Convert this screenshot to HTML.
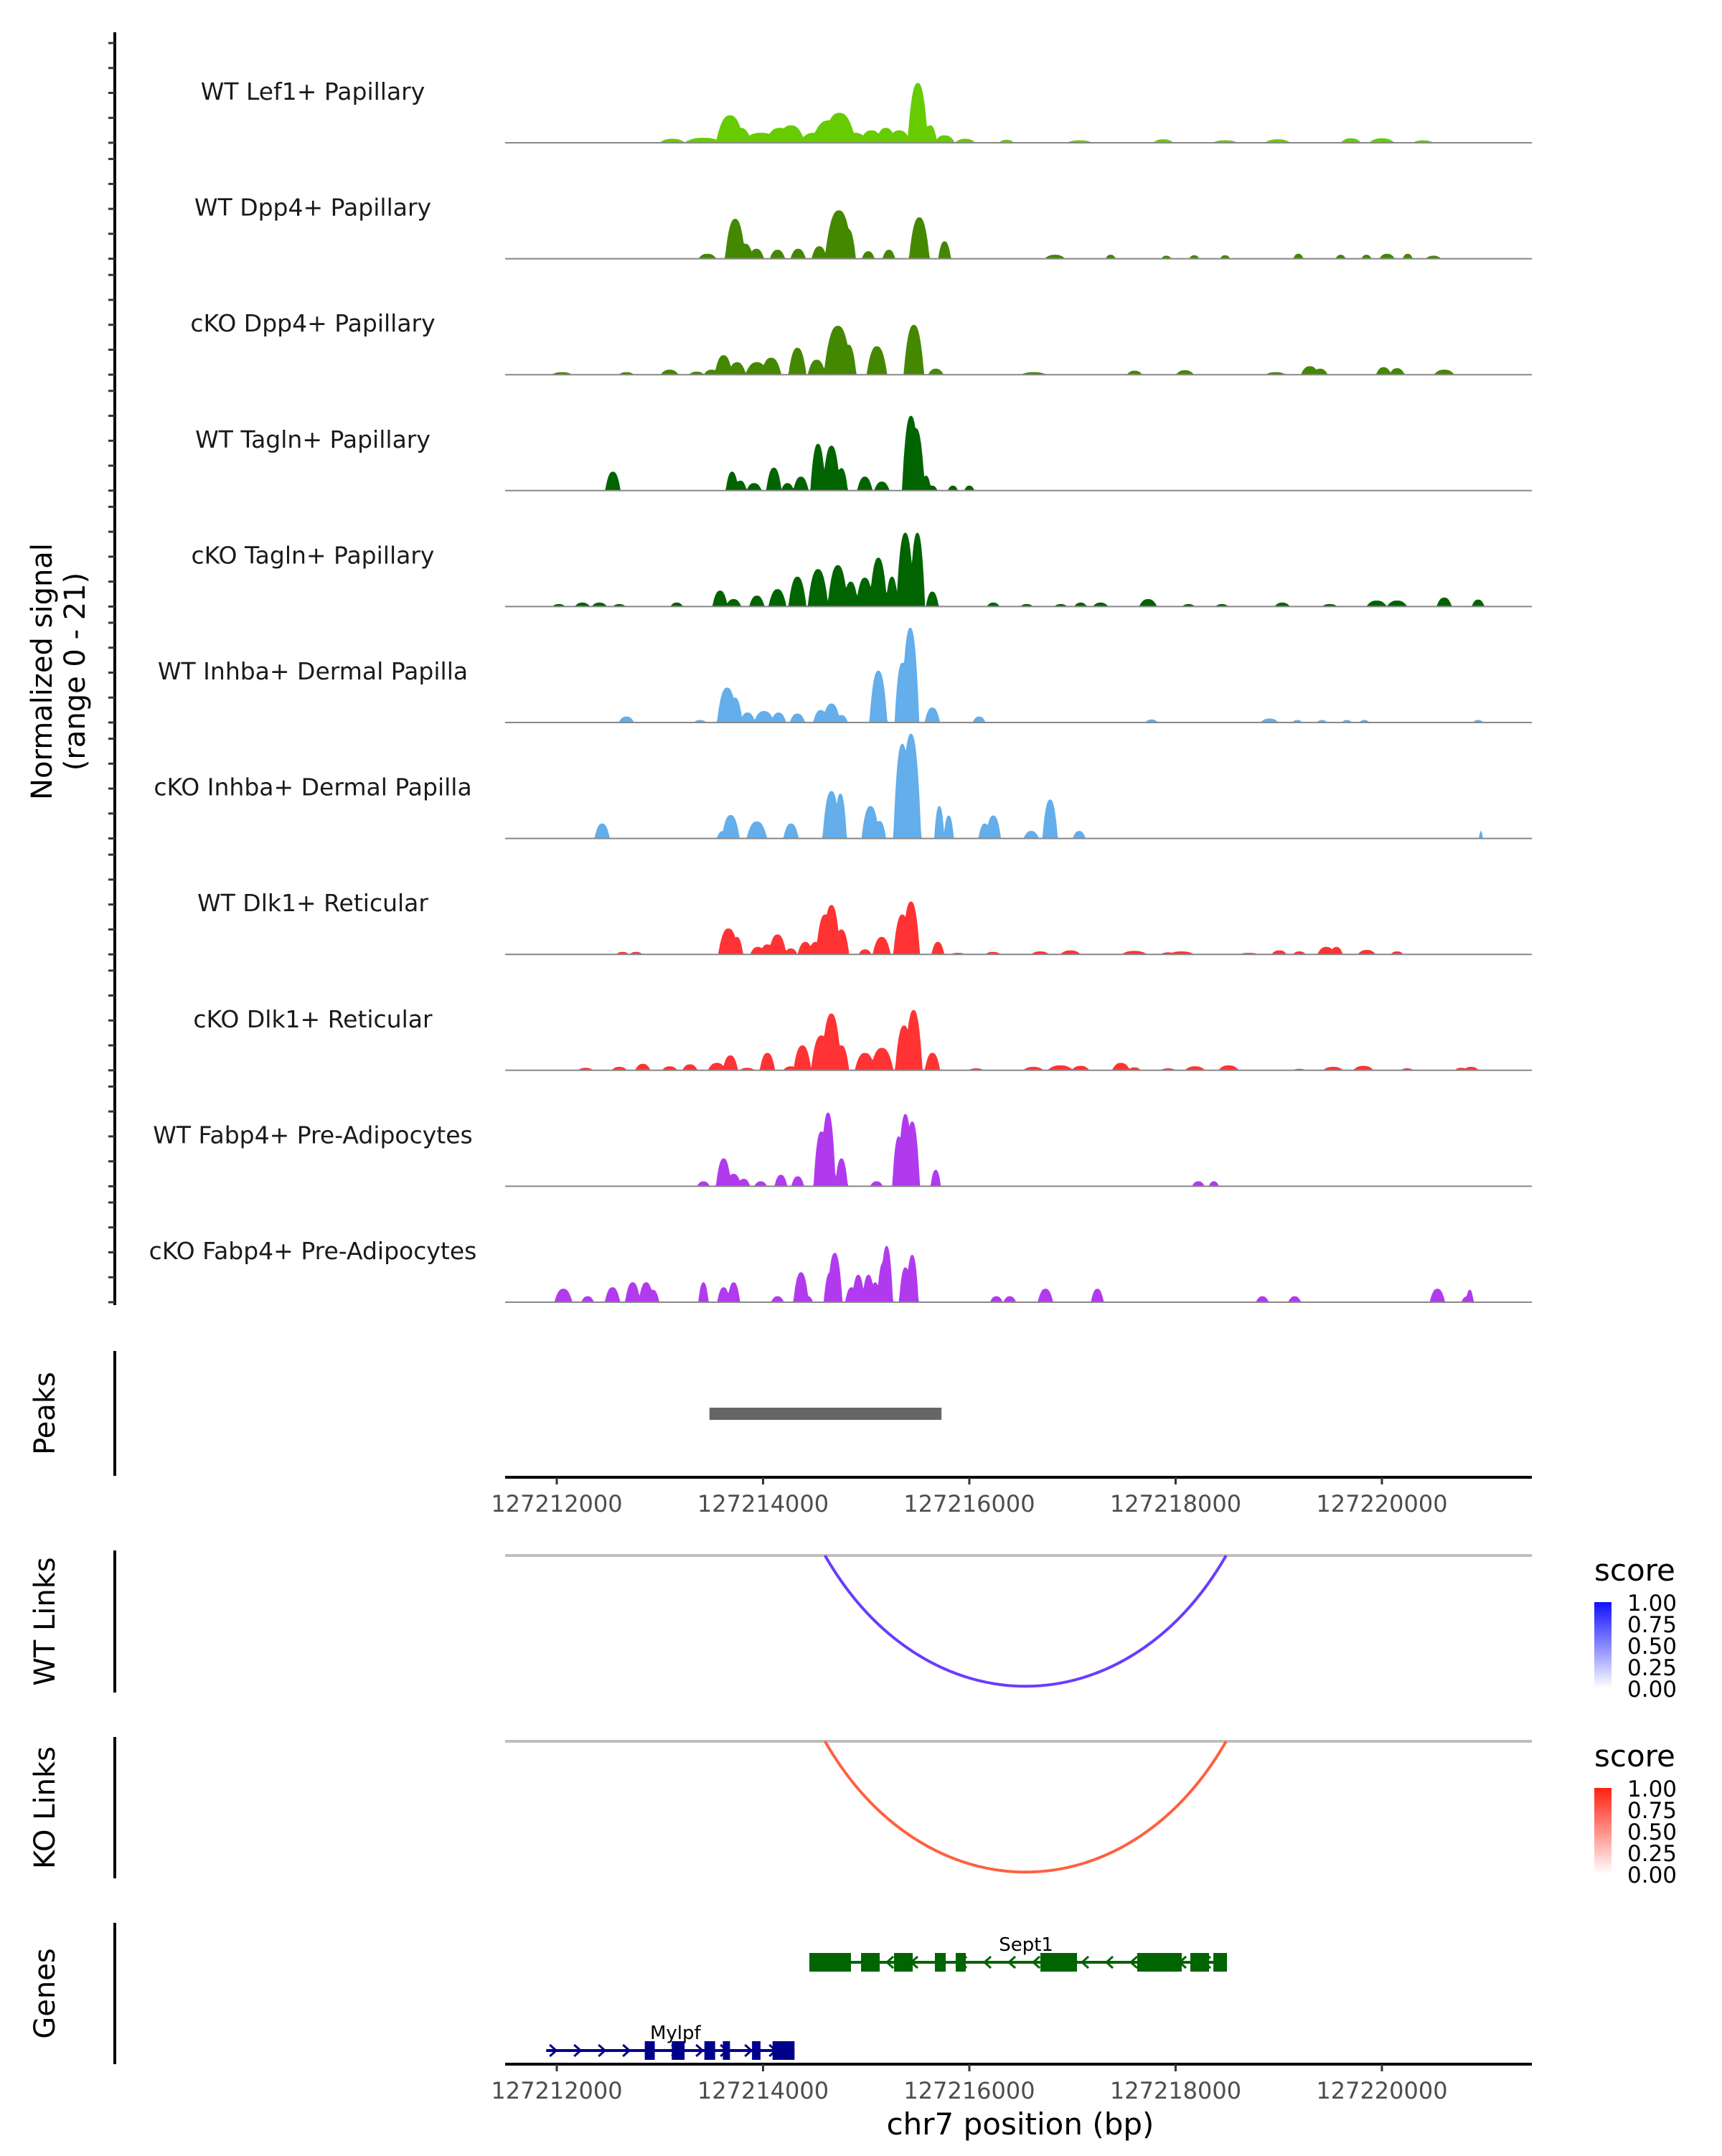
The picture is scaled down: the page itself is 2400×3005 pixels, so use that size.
<!DOCTYPE html>
<html><head><meta charset="utf-8"><style>
html,body{margin:0;padding:0;background:#fff;}
svg text{font-family:"DejaVu Sans","Liberation Sans",sans-serif;}
</style></head><body>
<svg id="chart" width="2400" height="3000" viewBox="0 0 2400 3000" xmlns="http://www.w3.org/2000/svg">
<g id="tracks"></g>
<g id="rest"></g>
</svg>
<script>
// ---- data ----
const regionStart = 127211499, regionEnd = 127221454;
const xTicks = [127212000,127214000,127216000,127218000,127220000];
const trackNames = ["WT Lef1+ Papillary","WT Dpp4+ Papillary","cKO Dpp4+ Papillary","WT Tagln+ Papillary","cKO Tagln+ Papillary","WT Inhba+ Dermal Papilla","cKO Inhba+ Dermal Papilla","WT Dlk1+ Reticular","cKO Dlk1+ Reticular","WT Fabp4+ Pre-Adipocytes","cKO Fabp4+ Pre-Adipocytes"];
const trackColors = ["#66cc00","#448800","#448800","#006400","#006400","#63aeeb","#63aeeb","#ff3333","#ff3333","#b23aee","#b23aee"];
// peaks: [offset bp from 127212000, height (0-21), half width bp]
const sigLef1 = [[1120,0.8,100],[1420,1,150],[1680,5.5,110],[1780,3,90],[1980,2,150],[2165,3,120],[2270,3.5,110],[2490,2,110],[2640,4.5,140],[2740,6,130],[2900,2,90],[3050,2.5,90],[3190,3,80],[3320,2.5,90],[3500,12,80],[3620,3.5,55],[3760,1.5,80],[3960,0.8,80],[4360,0.6,60],[5070,0.5,100],[5880,0.7,80],[6480,0.5,100],[6990,0.7,100],[7700,0.9,80],[8000,0.9,100],[8400,0.5,80]];
const sigDpp4WT = [[1460,1,70],[1730,8,80],[1830,3,60],[1935,2,60],[2140,1.8,60],[2340,2,60],[2545,2.5,60],[2735,9.7,110],[2825,6,60],[3020,1.5,50],[3220,1.8,50],[3515,8.3,80],[3760,3.5,50],[4830,0.8,80],[5370,0.8,40],[5910,0.6,40],[6180,0.7,40],[6480,0.7,40],[7190,1,40],[7600,0.8,40],[7850,0.8,40],[8050,1,60],[8250,1,40],[8500,0.6,60]];
const sigDpp4KO = [[50,0.5,80],[675,0.5,60],[1094,1,70],[1356,0.6,60],[1500,1,60],[1617,3.9,70],[1748,2.5,70],[1940,2.5,90],[2078,3.4,80],[2333,5.4,70],[2520,3,70],[2725,9.8,110],[2830,6,60],[3104,5.7,80],[3462,10,80],[3675,1.2,60],[4625,0.5,100],[5602,0.8,60],[6090,0.9,70],[6970,0.5,80],[7302,1.7,70],[7400,1.2,60],[8017,1.5,60],[8147,1.3,60],[8604,1,80]];
const sigTaglnWT = [[544,3.8,60],[1700,3.8,50],[1780,2,50],[1913,1.5,60],[2105,4.6,60],[2237,1.5,50],[2367,2.8,60],[2533,9.4,60],[2663,9,70],[2760,4.5,50],[2987,2.8,60],[3152,1.8,60],[3434,15,70],[3482,12.5,70],[3580,3,40],[3641,1,40],[3840,1,40],[4000,1,40]];
const sigTaglnKO = [[20,0.5,50],[248,0.8,60],[413,0.8,60],[606,0.5,50],[1163,0.8,50],[1583,3.2,60],[1714,1.5,60],[1940,2.2,60],[2140,3.5,70],[2333,6,70],[2533,7.5,80],[2725,8.3,80],[2850,5,60],[2987,5.8,70],[3118,9.8,70],[3250,6,50],[3379,14.8,70],[3496,14.8,60],[3641,3,50],[4232,0.8,50],[4556,0.5,50],[4886,0.5,50],[5079,0.8,50],[5272,0.8,60],[5733,1.5,70],[6125,0.5,50],[6448,0.5,50],[7034,0.8,60],[7494,0.5,60],[7949,1.2,80],[8147,1.2,80],[8604,1.8,60],[8933,1.4,50]];
const sigInhbaWT = [[675,1.2,60],[1390,0.5,50],[1652,7,80],[1727,5,60],[1850,2,60],[2010,2.3,80],[2150,2,60],[2333,1.8,60],[2560,2.5,60],[2663,3.8,70],[2760,1.5,50],[3118,10.4,70],[3350,12,60],[3427,19,70],[3641,3,60],[4095,1.2,50],[5767,0.6,50],[6910,0.8,70],[7180,0.5,40],[7420,0.5,40],[7660,0.5,40],[7830,0.5,40],[8933,0.5,40]];
const sigInhbaKO = [[440,3,60],[1613,1.5,50],[1686,4.7,70],[1940,3.4,80],[2271,3,60],[2663,9.5,70],[2750,9,50],[3042,6.5,70],[3130,3.5,50],[3350,19,70],[3434,21,80],[3709,6.5,40],[3800,4.6,40],[4150,3,50],[4232,4.6,60],[4600,1.5,60],[4783,7.8,60],[5065,1.5,50],[8960,1.5,15]];
const sigDlk1WT = [[638,0.5,50],[769,0.5,50],[1665,5.2,80],[1745,3.5,50],[1950,1.5,60],[2042,2,60],[2140,4,70],[2270,1.2,50],[2410,2.5,60],[2510,2.5,60],[2600,8,70],[2663,9.9,70],[2760,5,60],[2989,1,50],[3150,3.5,70],[3350,8,70],[3434,10.6,70],[3695,2.5,50],[3890,0.3,60],[4229,0.5,60],[4686,0.6,70],[4980,0.8,80],[5600,0.7,100],[5927,0.4,60],[6057,0.6,100],[6710,0.3,80],[7004,0.8,60],[7200,0.6,50],[7461,1.5,70],[7559,1.5,50],[7853,0.9,70],[8147,0.6,50]];
const sigDlk1KO = [[279,0.5,60],[606,0.7,60],[834,1.3,60],[1095,0.8,60],[1291,1.2,60],[1552,1.5,70],[1683,3,60],[1846,0.5,60],[2042,3.5,60],[2270,0.8,60],[2381,5,70],[2564,7,80],[2662,11.4,80],[2760,5,60],[2989,3.5,80],[3152,4.5,90],[3367,9,70],[3459,12.1,70],[3642,3.5,60],[4066,0.4,60],[4621,0.7,80],[4882,1,100],[5078,0.9,70],[5470,1.5,70],[5600,0.6,50],[5927,0.4,60],[6188,0.8,80],[6514,1,80],[7200,0.3,50],[7527,0.7,80],[7820,0.9,80],[8245,0.4,50],[8767,0.5,50],[8865,0.7,60]];
const sigFabp4WT = [[1422,1,50],[1618,5.6,60],[1715,2.5,60],[1813,1.5,50],[1977,1,50],[2173,2.3,50],[2336,2,50],[2564,11,60],[2630,14.8,60],[2760,5.6,50],[3100,1,50],[3315,10,50],[3380,14.5,60],[3446,13,60],[3674,3.3,40],[6220,1,50],[6371,1,40]];
const sigFabp4KO = [[64,2.7,70],[299,1.2,50],[540,3,60],[736,4,60],[867,4,60],[932,2.5,50],[1422,4,40],[1618,3,50],[1715,4,50],[2140,1.2,50],[2368,6,60],[2434,1.2,40],[2650,6,50],[2695,9.9,60],[2858,3,50],[2923,5.5,50],[3022,5.5,50],[3087,4,40],[3165,8,50],[3198,11.3,50],[3380,7,50],[3446,9.5,50],[4262,1.2,50],[4392,1.2,50],[4738,2.7,60],[5241,2.7,50],[6841,1.2,50],[7154,1.2,50],[8538,2.7,60],[8832,1.2,50],[8852,2.5,30]];
const signals = [sigLef1,sigDpp4WT,sigDpp4KO,sigTaglnWT,sigTaglnKO,sigInhbaWT,sigInhbaKO,sigDlk1WT,sigDlk1KO,sigFabp4WT,sigFabp4KO];
const peakRegion = [127213480,127215730];
const wtLink = [127214600,127218490];
const koLink = [127214600,127218490];
const sept1Exons = [[2449,2852],[2950,3131],[3270,3451],[3666,3771],[3868,3965],[4689,5044],[5628,6059],[6143,6324],[6366,6498]];
const sept1Span = [2449,6498];
const mylpfExons = [[853,950],[1115,1239],[1431,1535],[1610,1679],[1893,1975],[2092,2305]];
const mylpfSpan = [-103,2305];
const legendTicks = ["1.00","0.75","0.50","0.25","0.00"];
const yTicks = [0,5,10,15,20];

// ---- scales ----
const NS="http://www.w3.org/2000/svg";
const X0=704, X1=2135, BASE0=127212000;
const xs = bp => X0 + (bp-regionStart)/(regionEnd-regionStart)*(X1-X0);
const xo = off => xs(BASE0+off);
const trackBase = i => 199 + i*161.6;
const unitPx = 6.95;
function el(tag, attrs, parent){const e=document.createElementNS(NS,tag);for(const k in attrs)e.setAttribute(k,attrs[k]);parent.appendChild(e);return e;}
const G=document.getElementById('tracks'), R=document.getElementById('rest');

// left axis
let ax=el('line',{x1:160,y1:45,x2:160,y2:1819,stroke:'#000','stroke-width':4},G);


for(let i=0;i<11;i++){
  for(const t of yTicks){
    const y=trackBase(i)-t*unitPx;
    const tk=el('line',{x1:151,y1:y,x2:160,y2:y,stroke:'#333','stroke-width':3},G);
    
    
  }
}
let yl=el('text',{transform:'translate(78,936) rotate(-90)','text-anchor':'middle','font-size':40,fill:'#000'},G);


el('tspan',{x:0,dy:-6},yl).textContent='Normalized signal';
el('tspan',{x:0,dy:46},yl).textContent='(range 0 - 21)';

// tracks
const step=8;
for(let i=0;i<11;i++){
  const b=trackBase(i);
  const g=el('g',{},G);
  
  
  const lab=el('text',{x:436,y:b-60,'text-anchor':'middle','font-size':33,fill:'#1a1a1a'},g);
  
  
  lab.textContent=trackNames[i];
  let d='M'+X0+','+b;
  for(let off=regionStart-BASE0; off<=regionEnd-BASE0; off+=step){
    let v=0;
    for(const p of signals[i]){const w=p[2]*1.25;const dd=Math.abs(off-p[0]);if(dd<w){const h=p[1]*(1-Math.pow(dd/w,2.5));if(h>v)v=h;}}
    d+=' L'+xo(off).toFixed(1)+','+(b-Math.min(v,21)*unitPx).toFixed(1);
  }
  d+=' L'+X1+','+b+' Z';
  const a=el('path',{d:d,fill:trackColors[i]},g);
  
  
  const bl=el('line',{x1:X0,y1:b,x2:X1,y2:b,stroke:'#888','stroke-width':2},g);
  
  
}

// side axes & titles
function sideAxis(y1,y2,label,name){
  const l=el('line',{x1:160,y1:y1,x2:160,y2:y2,stroke:'#000','stroke-width':4},R);
  
  
  const t=el('text',{transform:'translate(76,'+((y1+y2)/2)+') rotate(-90)','text-anchor':'middle','font-size':40,fill:'#000'},R);
  
  
  t.textContent=label;
}
sideAxis(1883,2057,'Peaks','peaks');
sideAxis(2161,2359,'WT Links','wt-links');
sideAxis(2421,2618,'KO Links','ko-links');
sideAxis(2680,2877,'Genes','genes');

// peaks bar
let pb=el('rect',{x:xs(peakRegion[0]),y:1962,width:xs(peakRegion[1])-xs(peakRegion[0]),height:17,fill:'#666'},R);



// x axes
function xAxis(y,name){
  const l=el('line',{x1:704,y1:y,x2:2135,y2:y,stroke:'#000','stroke-width':4},R);
  
  
  for(const t of xTicks){
    const tk=el('line',{x1:xs(t),y1:y,x2:xs(t),y2:y+10,stroke:'#333','stroke-width':3},R);
    
    
    const tl=el('text',{x:xs(t),y:y+48,'text-anchor':'middle','font-size':32,fill:'#4d4d4d'},R);
    
    
    tl.textContent=t;
  }
}
xAxis(2059,'peaks-x-axis');
xAxis(2877,'genes-x-axis');
let xt=el('text',{x:1422,y:2975,'text-anchor':'middle','font-size':42,fill:'#000'},R);


xt.textContent='chr7 position (bp)';

// links
function links(y0,link,color,name,gradId,c1){
  const gl=el('line',{x1:X0,y1:y0,x2:X1,y2:y0,stroke:'#bebebe','stroke-width':4},R);
  
  
  const a=xs(link[0]), b=xs(link[1]);
  const p=el('path',{d:'M'+a+','+y0+' C'+(a+(b-a)*0.25)+','+(y0+243)+' '+(b-(b-a)*0.25)+','+(y0+243)+' '+b+','+y0,fill:'none',stroke:color,'stroke-width':4},R);
  
  
  const defs=el('defs',{},R);
  const lg=el('linearGradient',{id:gradId,x1:0,y1:0,x2:0,y2:1},defs);
  el('stop',{offset:'0',['stop-color']:c1},lg);
  el('stop',{offset:'1',['stop-color']:'#ffffff'},lg);
  const ly=y0+35;
  const st=el('text',{x:2222,y:ly,'font-size':42,fill:'#000'},R);
  
  
  st.textContent='score';
  const bar=el('rect',{x:2222,y:ly+30,width:24,height:120,fill:'url(#'+gradId+')'},R);
  
  
  legendTicks.forEach((t,k)=>{
    const tl=el('text',{x:2268,y:ly+42+k*30,'font-size':31,fill:'#000'},R);
    
    
    tl.textContent=t;
  });
}
links(2168,wtLink,'#6a3cff','wt-links','gb','#1010ff');
links(2427,koLink,'#ff6040','ko-links','gr','#ff2010');

// genes
function gene(span,exons,y,color,dir,label,lx,name){
  const g=el('g',{},R);
  
  
  el('line',{x1:xo(span[0]),y1:y,x2:xo(span[1]),y2:y,stroke:color,'stroke-width':4},g);
  for(let x=xo(span[0])+10;x<xo(span[1]);x+=34){
    el('path',{d:dir>0?('M'+(x-5)+','+(y-8)+' L'+(x+4)+','+y+' L'+(x-5)+','+(y+8)):('M'+(x+5)+','+(y-8)+' L'+(x-4)+','+y+' L'+(x+5)+','+(y+8)),fill:'none',stroke:color,'stroke-width':3},g);
  }
  for(const e of exons){
    const r=el('rect',{x:xo(e[0]),y:y-13,width:xo(e[1])-xo(e[0]),height:26,fill:color},g);
    
    
  }
  const t=el('text',{x:lx,y:y-16,'text-anchor':'middle','font-size':26,fill:'#000'},g);
  
  
  t.textContent=label;
}
gene(sept1Span,sept1Exons,2735,'#006400',-1,'Sept1',xo(4550),'gene-sept1');
gene(mylpfSpan,mylpfExons,2858,'#00008b',1,'Mylpf',xo(1150),'gene-mylpf');
</script>
</body></html>
